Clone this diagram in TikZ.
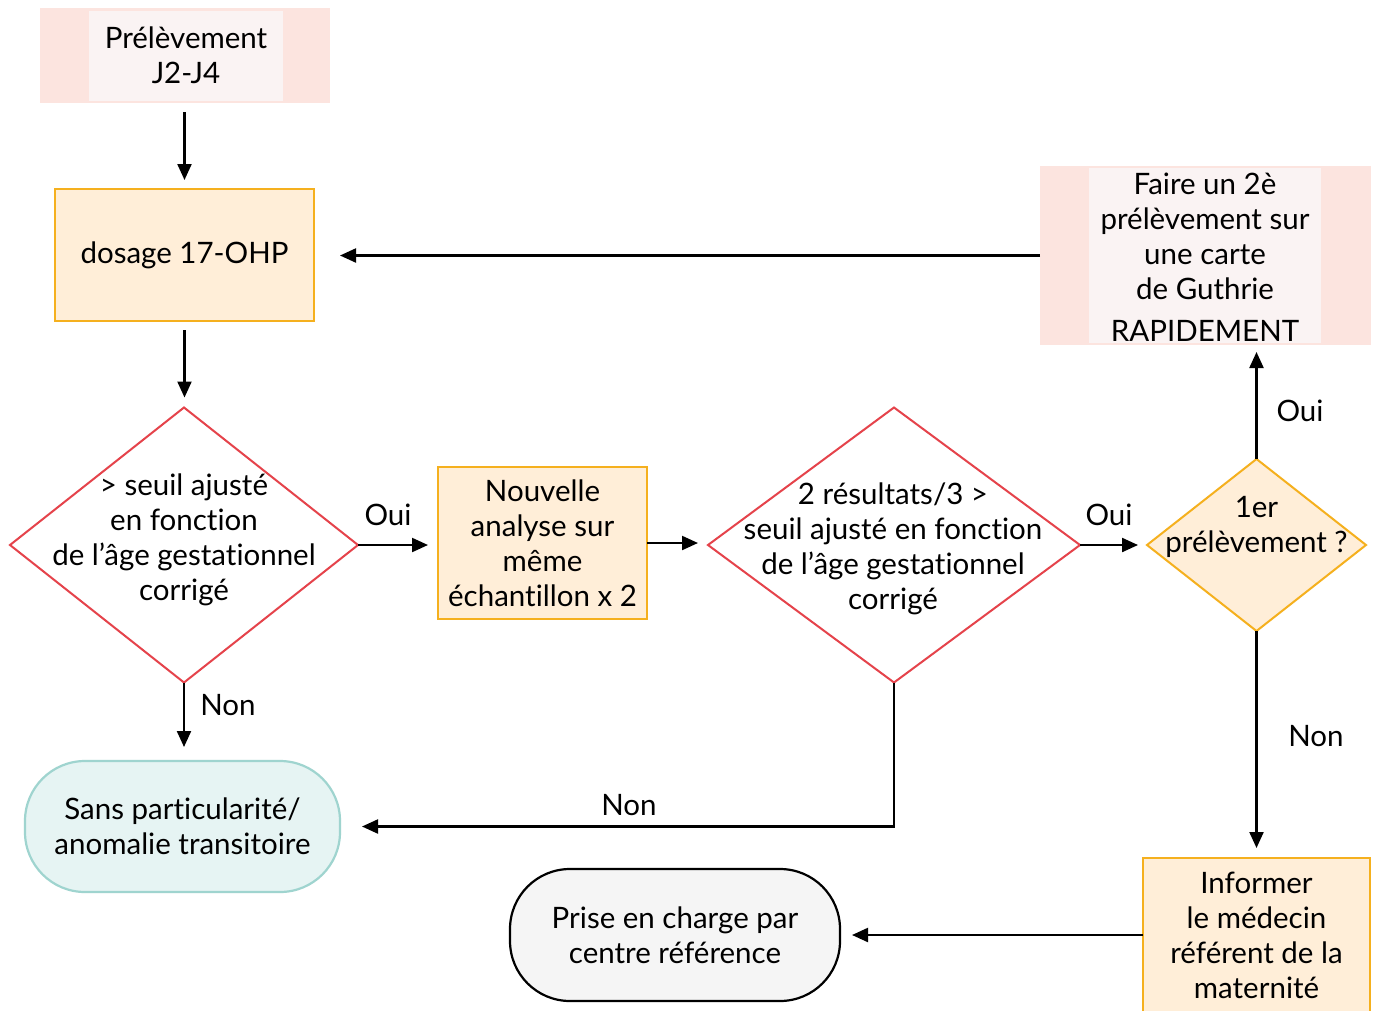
\documentclass[tikz,border=0pt]{standalone}
\usepackage{fontspec}
\setmainfont{Lato}[Ligatures=CommonOff]
\usetikzlibrary{shapes.geometric,arrows.meta}
\definecolor{pinkout}{HTML}{FCE4DF}
\definecolor{pinkin}{HTML}{FAF3F3}
\definecolor{orfill}{HTML}{FFEED8}
\definecolor{ordraw}{HTML}{F5B01E}
\definecolor{reddraw}{HTML}{E5434B}
\definecolor{tealfill}{HTML}{E6F4F3}
\definecolor{tealdraw}{HTML}{9FD4CF}
\definecolor{grayfill}{HTML}{F5F5F5}
\begin{document}
\begin{tikzpicture}[x=1pt,y=-1pt,
  every node/.style={font=\fontsize{29.5}{35}\selectfont, align=center, inner sep=0pt, outer sep=0pt},
  pinkbox/.style={rectangle, fill=pinkout},
  innerbox/.style={rectangle, fill=pinkin},
  orbox/.style={rectangle, fill=orfill, draw=ordraw, line width=2.5pt},
  reddiam/.style={diamond, draw=reddraw, fill=white, line width=2pt},
  ordiam/.style={diamond, draw=ordraw, fill=orfill, line width=2pt},
  roundbox/.style={rectangle, rounded corners=60pt, line width=2.2pt},
  arr/.style={line width=2.2pt, -{Triangle[length=16pt,width=14pt]}},
  lbl/.style={font=\fontsize{29.5}{35}\selectfont}
]
\clip (0,0) rectangle (1378,1010);
\fill[white] (0,0) rectangle (1378,1010);

% Prelevement
\node[pinkbox, minimum width=290pt, minimum height=95pt] (p) at (185,55.5) {};
\node[innerbox, minimum width=194pt, minimum height=90pt] (pin) at (186,55.5) {Prélèvement\\J2-J4};

% dosage
\node[orbox, minimum width=259pt, minimum height=132pt] (dos) at (184.5,255) {dosage 17-OHP};

% diamond 1
\node[reddiam, minimum width=348pt, minimum height=275pt] (d1) at (184,545) {};
\node (d1t) at (184,540) {> seuil ajusté\\en fonction\\de l’âge gestationnel\\corrigé};

% Nouvelle
\node[orbox, minimum width=209pt, minimum height=152pt] (nv) at (542.5,543) {Nouvelle\\analyse sur\\même\\échantillon x 2};

% diamond 2
\node[reddiam, minimum width=372pt, minimum height=275pt] (d2) at (894,545) {};
\node (d2t) at (893,549) {2 résultats/3 >\\seuil ajusté en fonction\\de l’âge gestationnel\\corrigé};

% diamond 3
\node[ordiam, minimum width=219pt, minimum height=172pt] (d3) at (1256.5,545) {};
\node (d3t) at (1256.5,527) {1er\\prélèvement ?};

% Faire
\node[pinkbox, minimum width=331pt, minimum height=179pt] (fa) at (1205.5,255.5) {};
\node[innerbox, minimum width=232pt, minimum height=175pt] (fain) at (1205,255.5) {};
\node (fat) at (1205,257) {Faire un 2è\\prélèvement sur\\une carte\\de Guthrie\\[7pt]RAPIDEMENT};

% Informer
\node[orbox, minimum width=227pt, minimum height=172pt] (inf) at (1256.5,944) {};
\node (inft) at (1256.5,935.5) {Informer\\le médecin\\référent de la\\maternité};

% Prise
\node[roundbox, draw=black, fill=grayfill, minimum width=330pt, minimum height=132pt] (pr) at (675,935) {Prise en charge par\\centre référence};

% Sans
\node[roundbox, draw=tealdraw, fill=tealfill, minimum width=315pt, minimum height=131pt] (sa) at (182.5,826.5) {Sans particularité/\\anomalie transitoire};

% connectors
\draw[arr, shorten <=9pt, shorten >=9pt] (p.south -| dos.north) -- (dos.north);
\draw[arr, shorten <=9pt, shorten >=10pt] (dos.south) -- (dos.south |- d1.north);
\draw[arr, shorten >=10pt] (d1.east) -- (d1.east -| nv.west);
\draw[arr, shorten >=10pt] (nv.east) -- (nv.east -| d2.west);
\draw[arr, shorten >=9pt] (d2.east) -- (d2.east -| d3.west);
\draw[arr, shorten >=7pt] (d3.north) -- (d3.north |- fa.south);
\draw[arr, shorten >=26pt] (fa.west) -- (fa.west -| dos.east);
\draw[arr, shorten >=10pt] (d3.south) -- (inf.north);
\draw[arr, shorten >=12pt] (pr.east -| inf.west) -- (pr.east);
\draw[arr, shorten >=14pt] (d1.south) -- (d1.south |- sa.north);
\draw[arr, shorten >=22pt] (d2.south) |- (sa.east);

% labels
\node[lbl] (l1) at (388,515) {Oui};
\node[lbl] (l2) at (1109,515) {Oui};
\node[lbl] (l3) at (1300,411) {Oui};
\node[lbl] (l4) at (228,705) {Non};
\node[lbl] (l5) at (1316,736) {Non};
\node[lbl] (l6) at (629,805) {Non};
\end{tikzpicture}
\end{document}
